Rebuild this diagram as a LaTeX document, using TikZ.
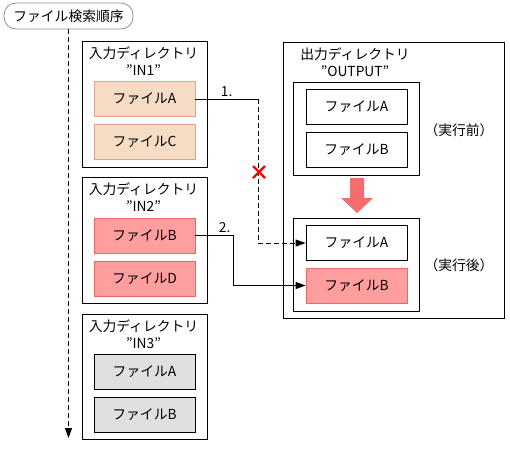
\documentclass[tikz,border=0pt]{standalone}
\usepackage{fontspec}
\setmainfont{Noto Sans CJK JP}
\usetikzlibrary{arrows.meta,calc}
\definecolor{peach}{HTML}{F6DCC5}
\definecolor{peachline}{HTML}{DDA585}
\definecolor{pinkf}{HTML}{FF9E9E}
\definecolor{pinkline}{HTML}{EE6666}
\definecolor{grayf}{HTML}{E0E0E0}
\definecolor{bigarrow}{HTML}{F46C6C}
\definecolor{titleline}{HTML}{909090}
\begin{document}
\begin{tikzpicture}[x=1pt,y=-1pt,line width=0.8pt,
  font=\fontsize{13.8}{15}\selectfont,
  box/.style={draw,anchor=north west,inner sep=0pt},
  filebox/.style={draw,minimum width=101pt,minimum height=35pt,inner sep=0pt},
  tip/.style={-{Triangle[length=10pt,width=7pt]}},
  dsh/.style={dash pattern=on 5pt off 3pt}]
\useasboundingbox (0,0) rectangle (510,456);

% title
\node[draw=titleline,rounded corners=12pt,minimum width=129pt,minimum height=26pt,inner sep=0pt] (title) at (68.5,16) {ファイル検索順序};
\coordinate (searchend) at (68.5,438);
\draw[dsh,tip] (title.south) -- (searchend);

% IN1
\node[box,minimum width=125pt,minimum height=126pt] (in1) at (82,41) {};
\node (in1t) at (143.5,53) {入力ディレクトリ};
\node (in1n) at (143.5,70) {”IN1”};
\node[filebox,fill=peach,draw=peachline] (in1a) at (144.5,99) {ファイルA};
\node[filebox,fill=peach,draw=peachline] (in1c) at (144.5,142) {ファイルC};

% IN2
\node[box,minimum width=125pt,minimum height=126pt] (in2) at (82,177) {};
\node (in2t) at (143.5,189) {入力ディレクトリ};
\node (in2n) at (143.5,206) {”IN2”};
\node[filebox,fill=pinkf,draw=pinkline] (in2b) at (144.5,235.5) {ファイルB};
\node[filebox,fill=pinkf,draw=pinkline] (in2d) at (144.5,278.5) {ファイルD};

% IN3
\node[box,minimum width=125pt,minimum height=125pt] (in3) at (82,314) {};
\node (in3t) at (143.5,326) {入力ディレクトリ};
\node (in3n) at (143.5,343) {”IN3”};
\node[filebox,fill=grayf] (in3a) at (144.5,371.5) {ファイルA};
\node[filebox,fill=grayf] (in3b) at (144.5,414.5) {ファイルB};

% OUTPUT
\node[box,minimum width=221pt,minimum height=276pt] (out) at (283,42) {};
\node (outt) at (355,54) {出力ディレクトリ};
\node (outn) at (355,71) {”OUTPUT”};
\node[box,minimum width=126pt,minimum height=93pt] (before) at (293,82) {};
\node[filebox] (befa) at (356.5,106.5) {ファイルA};
\node[filebox] (befb) at (356.5,149.5) {ファイルB};
\node (beflabel) at (459,130) {（実行前）};
\node[box,minimum width=126pt,minimum height=93pt] (after) at (293,218) {};
\node[filebox] (afta) at (356.5,243) {ファイルA};
\node[filebox,fill=pinkf,draw=pinkline] (aftb) at (356.5,285.5) {ファイルB};
\node (aftlabel) at (459,265) {（実行後）};

% big arrow
\fill[bigarrow] (350,178) -- (364,178) -- (364,198) -- (373,198) -- (357,213) -- (341,198) -- (350,198) -- cycle;

% connector 1
\coordinate (k1) at (258,99);
\draw (in1a.east) -- node[above=-1pt] {1.} (k1);
\draw[dsh,tip] (k1) |- (afta.west);
\draw[red,line width=2.2pt] (253,166) -- (265,178) (253,178) -- (265,166);

% connector 2
\coordinate (k2) at (233,235.5);
\draw[tip] (in2b.east) -- node[above=-1pt,pos=0.78] {2.} (k2) |- (aftb.west);
\end{tikzpicture}
\end{document}
